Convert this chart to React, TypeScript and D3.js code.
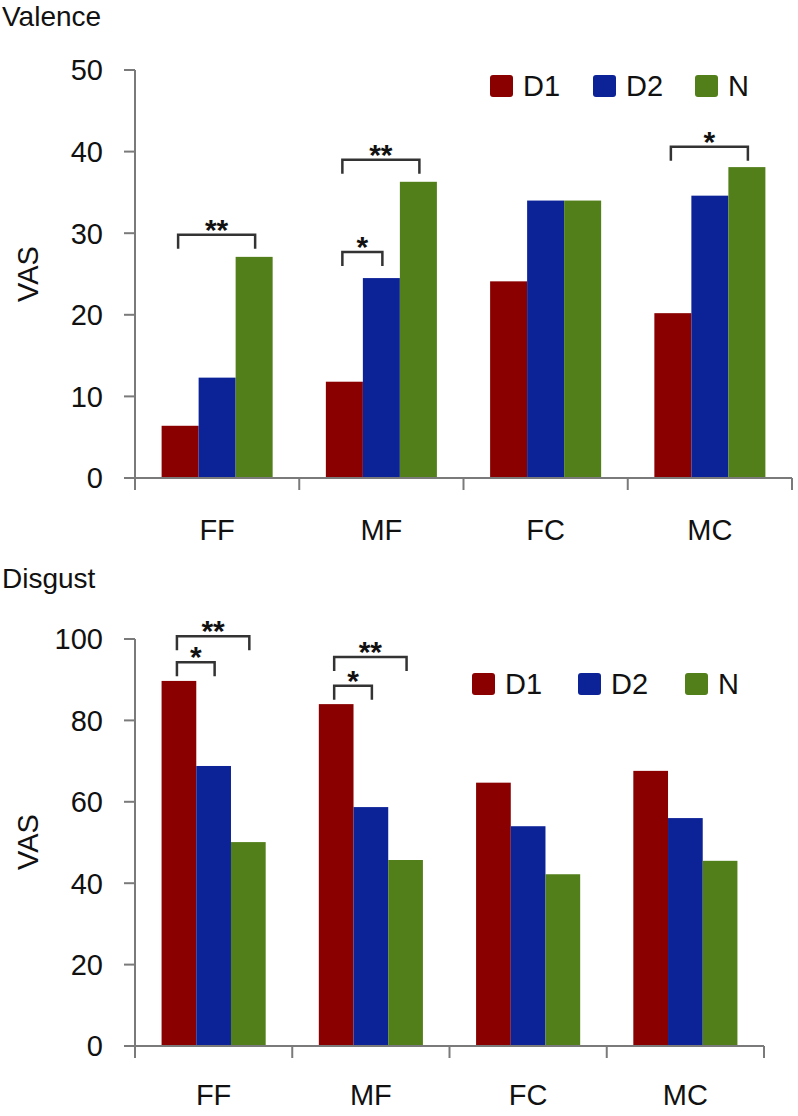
import React from "react";
import * as d3 from "d3";

const categories = ["FF", "MF", "FC", "MC"];
const seriesNames = ["D1", "D2", "N"];
const seriesColors = ["#8a0000", "#0c2398", "#537f1b"];

// Valence values per series (FF, MF, FC, MC)
const valenceD1 = [6.4, 11.8, 24.1, 20.2];
const valenceD2 = [12.3, 24.5, 34.0, 34.6];
const valenceN = [27.1, 36.3, 34.0, 38.1];
const valenceTicks = [0, 10, 20, 30, 40, 50];

// Disgust values per series
const disgustD1 = [89.7, 84.0, 64.7, 67.6];
const disgustD2 = [68.8, 58.7, 54.0, 56.0];
const disgustN = [50.1, 45.7, 42.2, 45.5];
const disgustTicks = [0, 20, 40, 60, 80, 100];

// significance brackets: category, from series, to series, label, level (data units)
const valenceSig = [
  { cat: "FF", from: "D1", to: "N", label: "**", level: 29.8 },
  { cat: "MF", from: "D1", to: "N", label: "**", level: 39.0 },
  { cat: "MF", from: "D1", to: "D2", label: "*", level: 27.7 },
  { cat: "MC", from: "D1", to: "N", label: "*", level: 40.6 },
];
const disgustSig = [
  { cat: "FF", from: "D1", to: "N", label: "**", level: 100.7 },
  { cat: "FF", from: "D1", to: "D2", label: "*", level: 94.3 },
  { cat: "MF", from: "D1", to: "N", label: "**", level: 95.6 },
  { cat: "MF", from: "D1", to: "D2", label: "*", level: 88.5 },
];

const FONT = "Liberation Sans, Arial, Helvetica, sans-serif";

type Sig = { cat: string; from: string; to: string; label: string; level: number };

function Panel(props: {
  title: string;
  titleY: number;
  values: number[][];
  ticks: number[];
  yMax: number;
  x0: number;
  x1: number;
  yZero: number;
  yTop: number;
  groupFrac: number;
  sig: Sig[];
  legendX: number[];
  legendY: number;
  vasY: number;
  catLabelY: number;
}) {
  const { values, ticks, yMax, x0, x1, yZero, yTop, groupFrac, sig } = props;
  const x = d3.scaleBand<string>().domain(categories).range([x0, x1]).padding(0);
  const y = d3.scaleLinear().domain([0, yMax]).range([yZero, yTop]);
  const bw = x.bandwidth();
  const gw = bw * groupFrac;
  const inner = d3.scaleBand<string>().domain(seriesNames).range([(bw - gw) / 2, (bw + gw) / 2]).padding(0);
  const axisColor = "#7a7a7a";
  const bounds = [...categories.map((c) => x(c) as number), x1];

  return (
    <g>
      <text x={2} y={props.titleY} fontFamily={FONT} fontSize={28} fill="#111">
        {props.title}
      </text>
      <text
        transform={`translate(38,${props.vasY}) rotate(-90)`}
        textAnchor="middle"
        fontFamily={FONT}
        fontSize={29}
        fill="#111"
      >
        VAS
      </text>
      {/* bars */}
      {values.map((arr, si) =>
        arr.map((v, ci) => (
          <rect
            key={`${si}-${ci}`}
            x={(x(categories[ci]) as number) + (inner(seriesNames[si]) as number)}
            y={y(v)}
            width={inner.bandwidth()}
            height={yZero - y(v)}
            fill={seriesColors[si]}
          />
        ))
      )}
      {/* y axis */}
      <line x1={x0} x2={x0} y1={y(yMax)} y2={yZero + 12} stroke={axisColor} strokeWidth={2} />
      {ticks.map((t) => (
        <g key={t}>
          <line x1={x0 - 11} x2={x0} y1={y(t)} y2={y(t)} stroke={axisColor} strokeWidth={2} />
          <text
            x={103}
            y={y(t)}
            dy="0.36em"
            textAnchor="end"
            fontFamily={FONT}
            fontSize={29}
            fill="#111"
          >
            {t}
          </text>
        </g>
      ))}
      {/* x axis */}
      <line x1={x0 - 11} x2={x1} y1={yZero} y2={yZero} stroke={axisColor} strokeWidth={2} />
      {bounds.map((b, i) => (
        <line key={i} x1={b} x2={b} y1={yZero} y2={yZero + 12} stroke={axisColor} strokeWidth={2} />
      ))}
      {categories.map((c) => (
        <text
          key={c}
          x={(x(c) as number) + bw / 2}
          y={props.catLabelY}
          textAnchor="middle"
          fontFamily={FONT}
          fontSize={29}
          fill="#111"
        >
          {c}
        </text>
      ))}
      {/* significance brackets */}
      {sig.map((s, i) => {
        const base = x(s.cat) as number;
        const xa = base + (inner(s.from) as number) + inner.bandwidth() / 2 - 2;
        const xb = base + (inner(s.to) as number) + inner.bandwidth() / 2 + 1;
        const yl = y(s.level);
        return (
          <g key={i}>
            <path
              d={`M${xa},${yl + 14}V${yl}H${xb}V${yl + 14}`}
              fill="none"
              stroke="#333"
              strokeWidth={2.5}
            />
            <text
              x={(xa + xb) / 2}
              y={yl + 5}
              textAnchor="middle"
              fontFamily={FONT}
              fontWeight="bold"
              fontSize={30}
              fill="#111"
            >
              {s.label}
            </text>
          </g>
        );
      })}
      {/* legend */}
      {seriesNames.map((n, i) => (
        <g key={n}>
          <rect
            x={props.legendX[i]}
            y={props.legendY - 11}
            width={23}
            height={22}
            rx={3}
            fill={seriesColors[i]}
          />
          <text
            x={props.legendX[i] + 33}
            y={props.legendY}
            dy="0.36em"
            fontFamily={FONT}
            fontSize={29}
            fill="#111"
          >
            {n}
          </text>
        </g>
      ))}
    </g>
  );
}

export default function App() {
  return (
    <svg
      width={798}
      height={1116}
      style={{ position: "absolute", left: 0, top: 0, background: "#fff" }}
    >
      <rect width={798} height={1116} fill="#fff" />
      <Panel
        title="Valence"
        titleY={26}
        values={[valenceD1, valenceD2, valenceN]}
        ticks={valenceTicks}
        yMax={50}
        x0={135}
        x1={792}
        yZero={478}
        yTop={70}
        groupFrac={0.676}
        sig={valenceSig}
        legendX={[490, 593, 695]}
        legendY={86}
        vasY={274}
        catLabelY={540}
      />
      <Panel
        title="Disgust"
        titleY={588}
        values={[disgustD1, disgustD2, disgustN]}
        ticks={disgustTicks}
        yMax={100}
        x0={135}
        x1={764}
        yZero={1046}
        yTop={639}
        groupFrac={0.662}
        sig={disgustSig}
        legendX={[472, 578, 685]}
        legendY={684}
        vasY={842}
        catLabelY={1105}
      />
    </svg>
  );
}
